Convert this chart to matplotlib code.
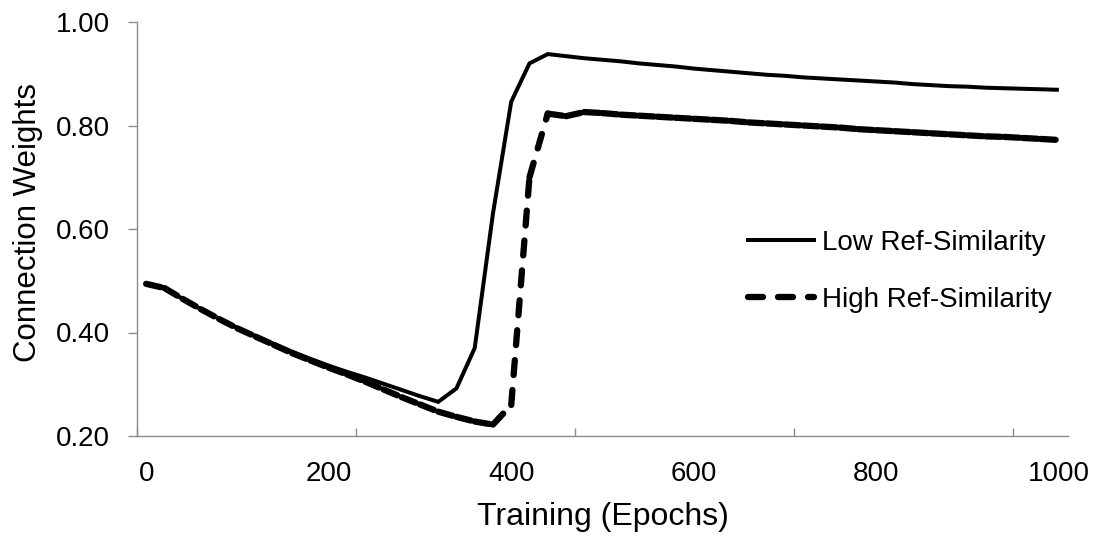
import matplotlib
matplotlib.use("Agg")
import matplotlib.pyplot as plt
from matplotlib.lines import Line2D
from matplotlib.ticker import FixedLocator, FixedFormatter

plt.rcParams['font.family'] = ['Liberation Sans', 'DejaVu Sans']
plt.rcParams['lines.scale_dashes'] = False

# ---- data ----
epochs = list(range(0, 1001, 20))
low_ref = [0.494, 0.486, 0.465, 0.445, 0.427, 0.409, 0.393, 0.378, 0.363, 0.349,
           0.336, 0.324, 0.313, 0.301, 0.289, 0.277, 0.266, 0.292, 0.370, 0.630,
           0.846, 0.920, 0.938, 0.934, 0.930, 0.927, 0.924, 0.920, 0.917, 0.914,
           0.910, 0.907, 0.904, 0.901, 0.898, 0.896, 0.893, 0.891, 0.889, 0.887,
           0.885, 0.883, 0.880, 0.878, 0.876, 0.875, 0.873, 0.872, 0.871, 0.870,
           0.869]
high_ref = [0.494, 0.486, 0.465, 0.445, 0.426, 0.408, 0.392, 0.376, 0.360, 0.346,
            0.332, 0.319, 0.305, 0.290, 0.275, 0.261, 0.247, 0.237, 0.228, 0.222,
            0.260, 0.700, 0.823, 0.818, 0.826, 0.824, 0.821, 0.819, 0.817, 0.815,
            0.813, 0.811, 0.809, 0.806, 0.804, 0.802, 0.800, 0.798, 0.796, 0.793,
            0.791, 0.789, 0.787, 0.785, 0.783, 0.781, 0.779, 0.778, 0.776, 0.774,
            0.772]
series_labels = ["Low Ref-Similarity", "High Ref-Similarity"]
x_tick_labels = ["0", "200", "400", "600", "800", "1000"]
x_tick_values = [0, 200, 400, 600, 800, 1000]
y_tick_values = [0.20, 0.40, 0.60, 0.80, 1.00]

# ---- figure ----
W, H = 1102, 539
fig = plt.figure(figsize=(W / 100, H / 100), dpi=100)
ax = fig.add_axes([137 / W, (H - 436) / H, 931 / W, 414 / H])

PX = 0.72  # points per pixel
lw_low = 4.0 * PX
lw_high = 6.3 * PX
dash = (0, (15 * PX, 15 * PX))

ax.plot(epochs, low_ref, color='black', lw=lw_low, solid_joinstyle='miter',
        solid_capstyle='butt', zorder=3)
# Excel restarts the dash pattern at every data point: draw segment by segment
for i in range(len(epochs) - 1):
    ax.plot(epochs[i:i + 2], high_ref[i:i + 2], color='black', lw=lw_high,
            linestyle=dash, dash_capstyle='round', solid_capstyle='round',
            zorder=2)

ax.set_xlim(-10, 1010)
ax.set_ylim(0.2, 1.0)

gray = '#8c8c8c'
for s in ['top', 'right']:
    ax.spines[s].set_visible(False)
for s in ['left', 'bottom']:
    ax.spines[s].set_color(gray)
    ax.spines[s].set_linewidth(1.0)

ax.xaxis.set_major_locator(FixedLocator(x_tick_values))
ax.xaxis.set_major_formatter(FixedFormatter(x_tick_labels))
ax.xaxis.set_minor_locator(FixedLocator([-10, 230, 470, 710, 950]))
ax.tick_params(axis='x', which='major', length=0, pad=18, labelsize=20)
ax.tick_params(axis='x', which='minor', direction='in', length=8 * PX,
               color=gray, width=1.0)

ax.set_yticks(y_tick_values)
ax.set_yticklabels([f"{v:.2f}" for v in y_tick_values])
ax.tick_params(axis='y', which='major', direction='out', length=9 * PX,
               color=gray, width=1.0, pad=13, labelsize=20)

ax.set_xlabel("Training (Epochs)", fontsize=23, labelpad=11)
ax.set_ylabel("Connection Weights", fontsize=22.5, labelpad=9)
ax.yaxis.set_label_coords(-0.1015, 0.515)

handles = [Line2D([], [], color='black', lw=lw_low),
           Line2D([], [], color='black', lw=lw_high, linestyle=dash,
                  dash_capstyle='round')]
leg = ax.legend(handles, series_labels, loc='upper left', frameon=False,
                bbox_to_anchor=(748 / W, (H - 230) / H),
                bbox_transform=fig.transFigure, fontsize=20,
                handlelength=2.38, handletextpad=0.3, labelspacing=1.1,
                borderpad=0, borderaxespad=0)

fig.savefig("out.png", dpi=100)
